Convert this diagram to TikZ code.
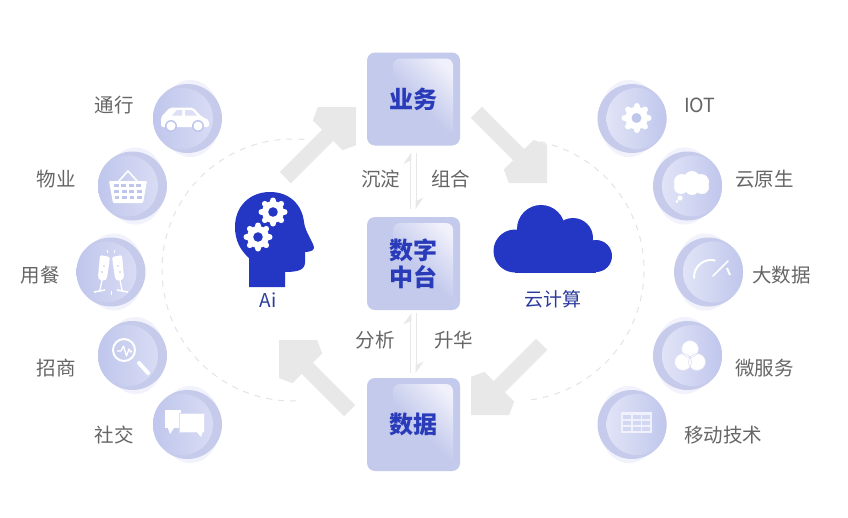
\documentclass[tikz,border=0pt]{standalone}
\usepackage{fontspec}
\usepackage{xcolor}
\usepackage{tikz}
\usetikzlibrary{arrows.meta,positioning,shapes.geometric}
\setmainfont{Noto Sans CJK SC}
\definecolor{accent}{HTML}{2336C4}
\definecolor{boxtext}{HTML}{2A3BBA}
\definecolor{labelblue}{HTML}{2C3C9E}
\definecolor{boxfill}{HTML}{C4CAEC}
\definecolor{boxhi}{HTML}{F0F1FB}
\definecolor{bubbleedge}{HTML}{C6CBEB}
\definecolor{bubbledeep}{HTML}{BFC6EC}
\definecolor{bubblepale}{HTML}{DCDFF5}
\definecolor{bubblehalo}{HTML}{F1F2FB}
\definecolor{arrowgrey}{HTML}{E8E8E8}
\definecolor{dashgrey}{HTML}{E4E4E6}
\definecolor{textgrey}{HTML}{666666}
\tikzset{
  corebox/.style={rounded corners=8pt,minimum width=93pt,minimum height=93pt,inner sep=0pt,fill=boxfill,
    align=center,text=boxtext,font=\fontsize{24}{27}\selectfont\bfseries,
    path picture={\shade[rounded corners=7pt,bottom color=boxfill,top color=boxhi,middle color=boxfill,shading angle=-45]
      ([shift={(26,6)}]path picture bounding box.north west) rectangle ([shift={(-7,-8)}]path picture bounding box.south east);}},
  bubbleleft/.style={circle,minimum size=69pt,inner sep=0pt,fill=bubbleedge,
    path picture={\shade[left color=bubbledeep,right color=bubblepale]
      ([xshift=-5pt]path picture bounding box.center) circle[radius=30.5];}},
  bubbleright/.style={circle,minimum size=69pt,inner sep=0pt,fill=bubbleedge,
    path picture={\shade[left color=bubblepale!70!white,right color=bubbledeep]
      ([xshift=5pt]path picture bounding box.center) circle[radius=30.5];}},
  sidelabel/.style={text=textgrey,font=\fontsize{19.5}{22}\selectfont,inner sep=0pt},
  iconlabel/.style={text=labelblue,font=\fontsize{19}{22}\selectfont,inner sep=0pt},
  uplink/.style={draw=arrowgrey,line width=1.6pt,-{Stealth[harpoon,length=10pt,width=14pt]}},
  blockarrow/.pic={
    \fill[arrowgrey] (0,0) -- (-27,-27) -- (-40,-21) -- (-40,-7.8) -- (-100,-7.8) -- (-100,7.8)
      -- (-40,7.8) -- (-40,21) -- (-27,27) -- cycle;
  }
}
\newcommand{\gearicon}[4]{%
  \fill[#3] (#1) circle[radius=0.76*#2];
  \foreach \a in {0,45,...,315} \draw[#3,line width=0.4*#2,line cap=round] (#1) ++(\a:0.6*#2) -- ++(\a:0.2*#2);
  \fill[#4] (#1) circle[radius=0.33*#2];
}
\begin{document}
\begin{tikzpicture}[x=1pt,y=-1pt]
  \useasboundingbox (0,0) rectangle (848,517);
  \fill[white] (0,0) rectangle (848,517);

  % dashed rings
  \coordinate (ringa) at (293,270);
  \coordinate (ringb) at (513,270);
  \draw[dashgrey,line width=1pt,dash pattern=on 6pt off 6pt] (ringa) ++(-85:131) arc[start angle=-85,end angle=-272,radius=131];
  \draw[dashgrey,line width=1pt,dash pattern=on 6pt off 6pt] (ringb) ++(-78:131) arc[start angle=-78,end angle=84,radius=131];

  % big arrows
  \coordinate (tipa) at (356,107);
  \coordinate (tipb) at (547,183);
  \coordinate (tipc) at (471,415);
  \coordinate (tipd) at (279,340);
  \pic[rotate=45] at (tipa) {blockarrow};
  \pic[rotate=-45] at (tipb) {blockarrow};
  \pic[rotate=-135] at (tipc) {blockarrow};
  \pic[rotate=135] at (tipd) {blockarrow};

  % centre column
  \node[corebox] (biz) at (413.5,99) {\raisebox{2pt}{业务}};
  \node[corebox] (mid) at (413.5,263.5) {数字\\中台};
  \node[corebox] (data) at (413.5,424.5) {数据};
  \draw[uplink,shorten >=7pt,shorten <=8pt] ([xshift=-3pt]mid.north) -- ([xshift=-3pt]biz.south);
  \draw[uplink,shorten >=8pt,shorten <=7pt] ([xshift=3pt]biz.south) -- ([xshift=3pt]mid.north);
  \draw[uplink,shorten >=3pt,shorten <=5pt] ([xshift=-3pt]data.north) -- ([xshift=-3pt]mid.south);
  \draw[uplink,shorten >=5pt,shorten <=3pt] ([xshift=3pt]mid.south) -- ([xshift=3pt]data.north);
  \node[sidelabel,anchor=east] (settle) at (400.5,179) {沉淀};
  \node[sidelabel,anchor=west] (combine) at (431,179) {组合};
  \node[sidelabel,anchor=east] (analyse) at (395,340) {分析};
  \node[sidelabel,anchor=west] (refine) at (434,340) {升华};

  % head
  \fill[accent] (249,287) -- (249,258) .. controls (240,250) and (235,240) .. (235,227)
    .. controls (235,206) and (250,192) .. (270,192) .. controls (290,192) and (302,205) .. (304,222)
    .. controls (305,232) and (314,243) .. (314,248) .. controls (314,251) and (308,252) .. (305,252)
    -- (305,262) .. controls (305,269) and (300,272) .. (285,272) -- (285,287) -- cycle;
  \gearicon{273,212}{14.5}{white}{accent}
  \gearicon{258,237}{14.5}{white}{accent}
  \node[iconlabel] (ailabel) at (268,300) {Ai};

  % cloud
  \fill[accent] (515,251) circle[radius=21.5];
  \fill[accent] (541,229) circle[radius=24];
  \fill[accent] (573,238) circle[radius=20];
  \fill[accent] (596,256) circle[radius=16];
  \fill[accent] (515,245) rectangle (596,272.5);
  \node[iconlabel] (cloudlabel) at (552.5,299) {云计算};

  % left bubbles
  \foreach \nm/\px/\py/\lx/\ly/\txt in {car/187.5/118.5/134/105/通行,basket/132.5/186/76/179/物业,meal/111/272/60/275/用餐,search/132.5/355.5/76/368/招商,chat/187.5/424.5/134/435/社交}{
    \fill[bubblehalo] (\px+3,\py) ellipse[x radius=30,y radius=38.5];
    \node[bubbleleft] (\nm) at (\px,\py) {};
    \node[sidelabel,anchor=east] (\nm label) at (\lx,\ly) {\txt};
  }
  % right bubbles
  \foreach \nm/\px/\py/\lx/\ly/\txt in {iot/632/118.5/684/105/IOT,thought/687.5/186/735/179/云原生,gauge/708.5/272/752/275/大数据,venn/687.5/355.5/735/368/微服务,grid/632/424.5/684/435/移动技术}{
    \fill[bubblehalo] (\px-3,\py) ellipse[x radius=30,y radius=38.5];
    \node[bubbleright] (\nm) at (\px,\py) {};
    \node[sidelabel,anchor=west] (\nm label) at (\lx,\ly) {\txt};
  }

  % car
  \fill[white,rounded corners=2pt] (161,127) -- (161,117) -- (170,107.5) -- (193,107.5) -- (202,117) -- (209,120) -- (209,127) -- cycle;
  \fill[bubblepale] (172,115.5) -- (177,110) -- (182,110) -- (182,115.5) -- cycle (185,110) -- (192,110) -- (197,115.5) -- (185,115.5) -- cycle;
  \foreach \wx in {171,198}{
    \fill[bubbledeep] (\wx,126) circle[radius=6];
    \fill[white] (\wx,126) circle[radius=4.5];
  }

  % basket
  \draw[white,line width=1.6pt] (118,182) -- (128,171) -- (138,182);
  \fill[white,rounded corners=1pt] (109,181) -- (147,181) -- (143,203) -- (113,203) -- cycle;
  \foreach \r in {0,1,2}{
    \foreach \c in {0,1,2,3}
      \fill[bubbledeep] (113.5+\c*7.5+\r*0.6,184+\r*6) rectangle ++(5.2-\r*0.3,3);
  }

  % glasses
  \foreach \s in {1,-1}{
    \begin{scope}[shift={(meal.center)},xscale=\s]
      \fill[white,rounded corners=1.5pt] (-11,-17) -- (-1,-15) -- (-4,6) .. controls (-6,9) and (-11,9) .. (-13,5) -- cycle;
      \draw[white,line width=1.3pt] (-9,8) -- (-11,18);
      \draw[white,line width=1.6pt] (-17,20) -- (-6,18);
      \fill[bubbledeep] (-7,-6) circle[radius=.9] (-9,0) circle[radius=.9];
      \draw[white,line width=.9pt] (-3,-19) -- (-4,-22);
    \end{scope}
  }
  \draw[white,line width=.9pt] ([yshift=-19pt]meal.center) -- ([yshift=-23pt]meal.center);

  % search
  \draw[white,line width=2pt] (124,350) circle[radius=11];
  \draw[white,line width=4pt,line cap=round] (139,363) -- (148,373);
  \draw[white,line width=1.3pt,line join=round] (117,351) -- (121,351) -- (123.5,346) -- (126.5,356) -- (129,349) -- (130.5,352) -- (132,351);

  % chat
  \fill[white] (165,410) rectangle (181,428);
  \fill[white] (168,428) -- (174,428) -- (170,434) -- cycle;
  \fill[white,draw=bubblepale,line width=.7pt] (179,413) rectangle (204,432);
  \fill[white] (196,431) -- (203,431) -- (201,437) -- cycle;

  % iot gear
  \gearicon{636.5,118}{15}{white}{bubbledeep}

  % thought cloud
  \fill[white] (682,182) circle[radius=8] (692,179) circle[radius=8] (701,182) circle[radius=8]
    (702,187) circle[radius=7] (692,188) circle[radius=7] (681,187) circle[radius=7]
    (680,198) circle[radius=2.6] (677,201.5) circle[radius=1.7];

  % gauge
  \coordinate (gaugec) at (711,277);
  \draw[white,line width=2pt] (gaugec) ++(-185:17) arc[start angle=-185,end angle=-75,radius=17];
  \draw[white,line width=1.6pt,line cap=round] (713,276) -- (728,261);
  \draw[white,line width=2pt] (727,268) -- (730,275);

  % venn
  \fill[white] (690,349) circle[radius=8.5] (683,362) circle[radius=8.5] (697,362) circle[radius=8.5];
  \draw[bubblepale,line width=.6pt] (690,349) circle[radius=8.5] (683,362) circle[radius=8.5] (697,362) circle[radius=8.5];

  % table
  \fill[boxhi] (621,412) rectangle (652,433);
  \foreach \r in {0,1,2}{
    \foreach \c in {0,1,2}
      \fill[bubbledeep!70!white] (623+\c*9.6,414.5+\r*6.2) rectangle ++(8,4.2);
  }
\end{tikzpicture}
\end{document}
